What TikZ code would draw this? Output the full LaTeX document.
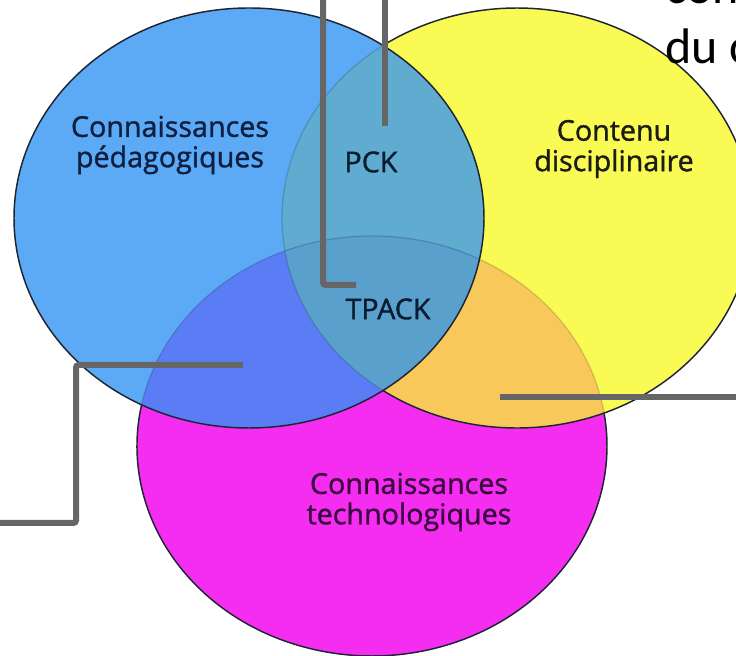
\documentclass[tikz,border=0pt]{standalone}
\usepackage{fontspec}
\setmainfont{Open Sans}[FakeBold=0.9,AutoFakeBold=0.9]
\newfontfamily\calib{Carlito}
\newfontfamily\lblfont{Open Sans}[FakeBold=1.2]
\definecolor{cblue}{RGB}{92,170,245}
\definecolor{cyellow}{RGB}{250,250,85}
\definecolor{cpink}{RGB}{245,45,240}
\definecolor{cpck}{RGB}{95,172,208}
\definecolor{cbp}{RGB}{90,125,245}
\definecolor{corange}{RGB}{248,200,90}
\definecolor{ccenter}{RGB}{90,160,205}
\definecolor{outlc}{RGB}{30,36,52}
\definecolor{tblue}{RGB}{14,31,64}
\definecolor{tyellow}{RGB}{28,28,20}
\definecolor{tpink}{RGB}{60,8,64}
\definecolor{tmid}{RGB}{12,28,48}
\definecolor{conn}{RGB}{102,102,102}
\begin{document}
\begin{tikzpicture}[x=0.75pt,y=0.75pt,
  ell/.style={x radius=176.25pt,y radius=157.5pt},
  outl/.style={draw=outlc,line width=1.1pt},
  faint/.style={draw=black,draw opacity=0.15,line width=1pt},
  lbl/.style={align=center,inner sep=0pt,font=\lblfont\fontsize{21.5}{22.8}\selectfont},
  connector/.style={draw=conn,line width=4.5pt,rounded corners=2pt}]
\useasboundingbox (0,0) rectangle (736,656);
\fill[white] (0,0) rectangle (736,656);
\coordinate (bc) at (249,438);
\coordinate (yc) at (517,438);
\coordinate (pc) at (372,210);
% fills
\fill[cpink] (pc) ellipse[ell];
\fill[cyellow] (yc) ellipse[ell];
\fill[cblue] (bc) ellipse[ell];
\begin{scope}
  \clip (yc) ellipse[ell];
  \fill[corange] (pc) ellipse[ell];
\end{scope}
\begin{scope}
  \clip (bc) ellipse[ell];
  \fill[cpck] (yc) ellipse[ell];
  \fill[cbp] (pc) ellipse[ell];
  \clip (yc) ellipse[ell];
  \fill[ccenter] (pc) ellipse[ell];
\end{scope}
% faint inner arcs
\draw[faint] (yc) ++(124.8:176.25pt and 157.5pt) arc[start angle=124.8,end angle=235.2,ell];
\draw[faint] (pc) ++(9:176.25pt and 157.5pt) arc[start angle=9,end angle=168.7,ell];
% outlines
\draw[outl] (bc) ellipse[ell];
\draw[outl] (yc) ++(-124.8:176.25pt and 157.5pt) arc[start angle=-124.8,end angle=124.8,ell];
\draw[outl] (pc) ++(168.7:176.25pt and 157.5pt) arc[start angle=168.7,end angle=369,ell];
% labels
\node[lbl,text=tblue] (ped) at (170,511) {Connaissances\\pédagogiques};
\node[lbl,text=tmid] (pck) at (371,494) {PCK};
\node[lbl,text=tyellow] (cont) at (614,507) {Contenu\\disciplinaire};
\node[lbl,text=tmid] (tpack) at (388,347) {TPACK};
\node[lbl,text=tpink] (tech) at (409,154) {Connaissances\\technologiques};
\node[anchor=base west,inner sep=0pt,font=\calib\fontsize{37.5}{45}\selectfont] (con) at (665,652) {con};
\node[anchor=base west,inner sep=0pt,font=\calib\fontsize{37.5}{45}\selectfont] (duc) at (665,592) {du c};
% connectors
\coordinate (a0) at (323,656);
\coordinate (a1) at (356,371);
\coordinate (b0) at (385,656);
\coordinate (b1) at (385,530);
\coordinate (c0) at (243,291);
\coordinate (c1) at (0,133);
\coordinate (d0) at (500,259);
\coordinate (d1) at (736,259);
\draw[connector] (a0) |- (a1);
\draw[connector] (b0) -- (b1);
\draw[connector] (c0) -| (76,212) |- (c1);
\draw[connector] (d0) -- (d1);
\end{tikzpicture}
\end{document}
